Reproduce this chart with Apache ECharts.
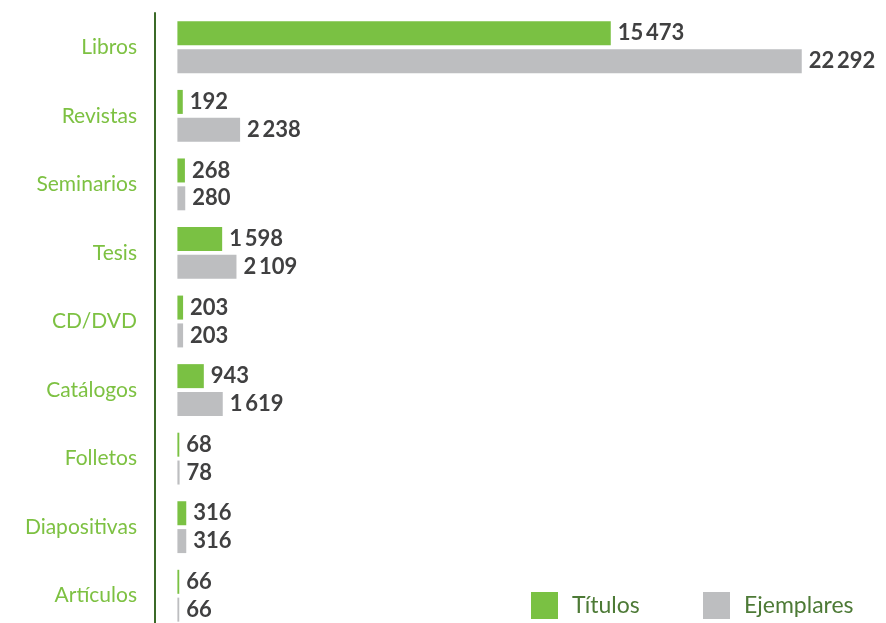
<!DOCTYPE html>
<html>
<head>
<meta charset="utf-8">
<script src="https://cdn.jsdelivr.net/npm/echarts@6/dist/echarts.min.js"></script>
<style>
  html, body { margin: 0; padding: 0; background: #ffffff; overflow: hidden; }
  #chart { width: 886px; height: 640px; }
</style>
</head>
<body>
<div id="chart"></div>
<script>
// Collection holdings by material type
const categories = ['Libros', 'Revistas', 'Seminarios', 'Tesis', 'CD/DVD', 'Catálogos', 'Folletos', 'Diapositivas', 'Artículos'];
const titulos    = [15473, 192, 268, 1598, 203, 943, 68, 316, 66];
const ejemplares = [22292, 2238, 280, 2109, 203, 1619, 78, 316, 66];
const seriesNames = ['Títulos', 'Ejemplares'];

const GREEN = '#7AC143';
const GRAY = '#BDBEC0';
const FONT = 'Lato, "Open Sans", sans-serif';

// thousands grouped with a thin space
function fmt(v) {
  return String(v).replace(/\B(?=(\d{3})+(?!\d))/g, '\u2009');
}

const valueLabel = {
  show: true,
  position: 'right',
  distance: 7,
  color: '#404041',
  fontFamily: FONT,
  fontWeight: 'bold',
  fontSize: 22,
  formatter: p => fmt(p.value)
};

const legendText = { color: '#4D7A36', fontFamily: FONT, fontSize: 23, padding: [0, 0, 0, 9] };

const chart = echarts.init(document.getElementById('chart'));
chart.setOption({
  animation: false,
  grid: { left: 155, right: 0, top: 13, height: 617, containLabel: false },
  xAxis: {
    type: 'value',
    min: -800,
    max: 25300,
    show: false
  },
  yAxis: {
    type: 'category',
    data: categories,
    inverse: true,
    axisLine: { show: true, onZero: false, lineStyle: { color: '#3B6A28', width: 2 } },
    axisTick: { show: false },
    axisLabel: { color: '#7DC142', fontFamily: FONT, fontSize: 21, margin: 18 },
    splitLine: { show: false }
  },
  legend: [
    {
      data: [seriesNames[0]],
      left: 531, top: 592, padding: 0,
      itemWidth: 27, itemHeight: 27,
      icon: 'rect',
      textStyle: legendText
    },
    {
      data: [seriesNames[1]],
      left: 703, top: 592, padding: 0,
      itemWidth: 27, itemHeight: 27,
      icon: 'rect',
      textStyle: legendText
    }
  ],
  series: [
    {
      name: seriesNames[0],
      type: 'bar',
      data: titulos,
      barWidth: 24,
      barGap: '16%',
      itemStyle: { color: GREEN },
      label: valueLabel
    },
    {
      name: seriesNames[1],
      type: 'bar',
      data: ejemplares,
      barWidth: 24,
      barGap: '16%',
      itemStyle: { color: GRAY },
      label: valueLabel
    }
  ]
});
</script>
</body>
</html>
